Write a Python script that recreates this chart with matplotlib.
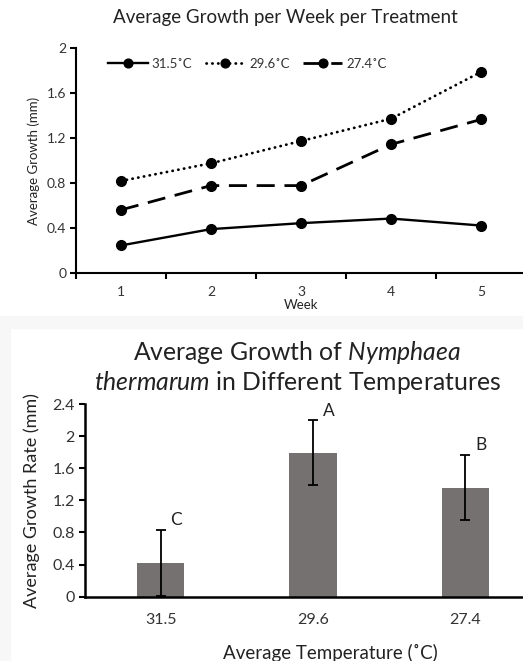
import matplotlib
matplotlib.use("Agg")
import matplotlib.pyplot as plt
from matplotlib.patches import Rectangle

plt.rcParams['font.family'] = ['Lato', 'DejaVu Sans']
plt.rcParams['mathtext.fontset'] = 'custom'
plt.rcParams['mathtext.rm'] = 'Lato'
plt.rcParams['mathtext.it'] = 'Lato:italic'

# --- data: weekly growth (top panel) ---
weeks = [1, 2, 3, 4, 5]
g_315 = [0.245, 0.39, 0.443, 0.484, 0.422]
g_296 = [0.818, 0.975, 1.173, 1.371, 1.787]
g_274 = [0.561, 0.777, 0.777, 1.143, 1.365]
series_labels = ['31.5˚C', '29.6˚C', '27.4˚C']
top_yticks = [0, 0.4, 0.8, 1.2, 1.6, 2]
top_yticklabels = ['0', '0.4', '0.8', '1.2', '1.6', '2']

# --- data: mean growth rate per temperature (bottom panel) ---
temps = ['31.5', '29.6', '27.4']
rate = [0.42, 1.79, 1.36]
rate_err = [0.41, 0.405, 0.41]
letters = ['C', 'A', 'B']
bot_yticks = [0, 0.4, 0.8, 1.2, 1.6, 2, 2.4]
bot_yticklabels = ['0', '0.4', '0.8', '1.2', '1.6', '2', '2.4']

W, H = 523, 661
fig = plt.figure(figsize=(W / 100, H / 100), dpi=100)

# faint grey band between the two pictures
fig.patches.append(Rectangle((0, 1 - 328 / H), 1, 12 / H, transform=fig.transFigure,
                             color='#f7f7f7', zorder=0))
fig.patches.append(Rectangle((0, 0), 10 / W, 1 - 328 / H, transform=fig.transFigure,
                             color='#f7f7f7', zorder=0))

# ---------------- top: line chart ----------------
ax1 = fig.add_axes([76 / W, 1 - 273 / H, 450 / W, 225 / H])
ax1.patch.set_alpha(0)
ax1.plot(weeks, g_315, color='black', lw=1.7, ls='-', marker='o', ms=7,
         label=series_labels[0])
ax1.plot(weeks, g_296, color='black', lw=2.0, ls=(0, (0.1, 2.0)), marker='o', ms=7,
         dash_capstyle='round', label=series_labels[1])
ax1.plot(weeks, g_274, color='black', lw=2.0, ls=(0, (6.5, 3.5)), marker='o', ms=7,
         label=series_labels[2])

ax1.set_xlim(0.5, 5.5)
ax1.set_ylim(0, 2)
ax1.set_yticks(top_yticks)
ax1.set_yticklabels(top_yticklabels)
ax1.set_xticks(weeks)
ax1.set_xticks([0.5, 1.5, 2.5, 3.5, 4.5, 5.5], minor=True)
ax1.tick_params(axis='both', which='both', color='black')
ax1.tick_params(axis='x', which='major', length=0, labelsize=10, pad=9, colors='#333333')
ax1.tick_params(axis='x', which='minor', length=4, width=1.5, color='black')
ax1.tick_params(axis='y', length=4, width=1.5, labelsize=10, pad=3, colors='#333333')
ax1.tick_params(axis='y', color='black')
for s in ['top', 'right']:
    ax1.spines[s].set_visible(False)
for s in ['left', 'bottom']:
    ax1.spines[s].set_linewidth(1.5)
ax1.set_xlabel('Week', fontsize=9.5, labelpad=1, color='#222222')
ax1.set_ylabel('Average Growth (mm)', fontsize=9.5, labelpad=5, color='#222222')
fig.text(285 / W, 1 - 18 / H, 'Average Growth per Week per Treatment',
         ha='center', va='center', fontsize=13.5, color='#222222')
ax1.legend(ncol=3, frameon=False, loc='center left', bbox_to_anchor=(0.06, 0.93),
           fontsize=9.5, handlelength=3.0, handletextpad=0.3, columnspacing=1.0,
           borderaxespad=0, markerscale=0.9, labelcolor='#333333')

# ---------------- bottom: bar chart ----------------
ax2 = fig.add_axes([84.5 / W, 1 - 596.7 / H, 457 / W, 192.7 / H])
ax2.patch.set_alpha(0)
xpos = range(len(temps))
ax2.bar(xpos, rate, width=0.31, color='#767171', zorder=2)
ax2.errorbar(xpos, rate, yerr=rate_err, fmt='none', ecolor='black', elinewidth=1.3,
             capsize=3.5, capthick=1.3, zorder=3)
for i, (v, e, t) in enumerate(zip(rate, rate_err, letters)):
    ax2.text(i + 0.065, v + e + 0.02, t, ha='left', va='bottom', fontsize=12.5,
             color='#222222')

ax2.set_xlim(-0.5, 2.5)
ax2.set_ylim(0, 2.4)
ax2.set_xticks(list(xpos))
ax2.set_xticklabels(temps)
ax2.set_yticks(bot_yticks)
ax2.set_yticklabels(bot_yticklabels)
ax2.tick_params(axis='both', color='black')
ax2.tick_params(axis='x', length=0, labelsize=11.5, pad=12, colors='#333333')
ax2.tick_params(axis='y', length=4, width=1.5, labelsize=11.5, pad=3, colors='#333333')
ax2.tick_params(axis='y', color='black')
for s in ['top', 'right']:
    ax2.spines[s].set_visible(False)
for s in ['left', 'bottom']:
    ax2.spines[s].set_linewidth(1.8)
ax2.set_ylabel('Average Growth Rate (mm)', fontsize=13, labelpad=9, color='#222222')
fig.text(330 / W, 1 - 653 / H, 'Average Temperature (˚C)', ha='center', va='center',
         fontsize=13.5, color='#222222')
fig.text(297 / W, 1 - 352 / H, r'Average Growth of $\it{Nymphaea}$', ha='center',
         va='center', fontsize=17.8, color='#222222')
fig.text(297 / W, 1 - 382 / H, r'$\it{thermarum}$ in Different Temperatures', ha='center',
         va='center', fontsize=17.8, color='#222222')

fig.savefig('out.png', dpi=100)
